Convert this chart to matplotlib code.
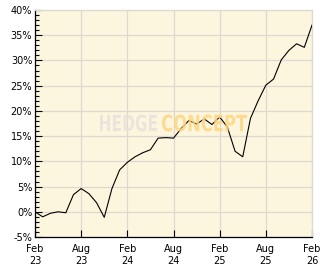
"""Hedge fund cumulative performance chart with HEDGE CONCEPT watermark."""

import matplotlib

matplotlib.use("Agg")
import matplotlib.pyplot as plt
import numpy as np
from matplotlib.font_manager import FontProperties
from matplotlib.patches import PathPatch
from matplotlib.path import Path
from matplotlib.textpath import TextPath
from matplotlib.ticker import MultipleLocator

# monthly cumulative return (%), Feb 23 .. Feb 26
months = np.arange(37)
returns = [
    0.0, -1.0, -0.3, 0.0, -0.2, 3.4, 4.6, 3.6, 1.8, -1.1,
    4.6, 8.3, 9.8, 10.9, 11.7, 12.3, 14.6, 14.7, 14.6, 16.5,
    18.1, 17.4, 18.4, 17.3, 18.8, 16.8, 12.0, 10.9, 18.5, 22.0,
    25.1, 26.3, 30.1, 32.0, 33.3, 32.6, 37.0,
]
xtick_pos = [0, 6, 12, 18, 24, 30, 36]
xtick_labels = ["Feb\n23", "Aug\n23", "Feb\n24", "Aug\n24", "Feb\n25", "Aug\n25", "Feb\n26"]
ytick_pos = [-5, 0, 5, 10, 15, 20, 25, 30, 35, 40]
ytick_labels = [f"{v}%" for v in ytick_pos]

W, H = 332, 269


def watermark(fig, text, box, color):
    """Draw text squeezed into a pixel box (x0, x1, ytop, ybottom)."""
    prop = FontProperties(family="DejaVu Sans", weight="bold")
    tp = TextPath((0, 0), text, size=10, prop=prop)
    v = tp.vertices.copy()
    ext = tp.get_extents()
    x0, x1, yt, yb = box
    v[:, 0] = x0 + (v[:, 0] - ext.x0) / ext.width * (x1 - x0)
    v[:, 1] = (H - yb) + (v[:, 1] - ext.y0) / ext.height * (yb - yt)
    v[:, 0] /= W
    v[:, 1] /= H
    patch = PathPatch(Path(v, tp.codes), transform=fig.transFigure,
                      facecolor=color, edgecolor="none", alpha=0.85, zorder=5)
    fig.add_artist(patch)


def render():
    fig = plt.figure(figsize=(W / 100, H / 100), dpi=100)
    ax = fig.add_axes([35 / W, 32 / H, 277 / W, 227 / H])
    ax.set_facecolor("#fdf6df")

    ax.plot(months, returns, color="black", lw=0.8, zorder=3)

    ax.set_xlim(0, 36)
    ax.set_ylim(-5, 40)
    ax.set_xticks(xtick_pos)
    ax.set_xticklabels(xtick_labels, fontsize=7, linespacing=1.25)
    ax.set_yticks(ytick_pos)
    ax.set_yticklabels(ytick_labels, fontsize=7)
    ax.yaxis.set_minor_locator(MultipleLocator(1))
    ax.tick_params(axis="x", direction="in", length=5, width=0.8, pad=5)
    ax.tick_params(axis="y", which="major", direction="in", length=5, width=0.8, pad=2)
    ax.tick_params(axis="y", which="minor", direction="in", length=3, width=0.8)
    ax.grid(True, color="#dcd9d2", lw=0.9, zorder=0)
    ax.set_axisbelow(True)

    for side in ("left", "bottom"):
        ax.spines[side].set_color("black")
        ax.spines[side].set_linewidth(0.9)
    for side in ("top", "right"):
        ax.spines[side].set_color("#dcd9d2")
        ax.spines[side].set_linewidth(0.9)

    watermark(fig, "HEDGE", (100, 157, 114.5, 131.5), "#e6e3db")
    watermark(fig, "CONCEPT", (162, 247, 114.5, 131.5), "#fdd57f")

    fig.savefig("out.png", dpi=100)
    plt.close(fig)


if __name__ == "__main__":
    render()
